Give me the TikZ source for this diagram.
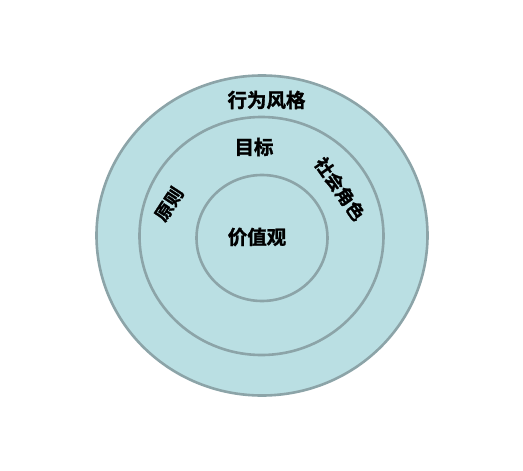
\documentclass[tikz,border=0pt]{standalone}
\usepackage{fontspec}
\newfontfamily\cjk{Noto Sans CJK SC}[BoldFont={* Bold},BoldFeatures={FakeBold=1.5}]
\definecolor{ringfill}{HTML}{BADFE3}
\definecolor{ringline}{HTML}{8CA4A8}
\begin{document}
\begin{tikzpicture}[x=1pt,y=-1pt,
  ring/.style={draw=ringline,line width=2.6pt,fill=ringfill},
  lbl/.style={font=\cjk\bfseries\fontsize{19.5}{19.5}\selectfont,inner sep=0pt},
  arclbl/.style={font=\cjk\bfseries\fontsize{18}{18}\selectfont,inner sep=0pt}]
\useasboundingbox (0,0) rectangle (523,471);
\fill[white] (0,0) rectangle (523,471);
\draw[ring] (262,235.5) ellipse [x radius=165.5,y radius=160];
\draw[ring] (261.5,236) ellipse [x radius=122,y radius=119];
\draw[ring] (262,238) ellipse [x radius=65.5,y radius=63];
\node[lbl] (a) at (266.5,100) {行为风格};
\node[lbl] (b) at (254,147) {目标};
\node[lbl] (c) at (257,237) {价值观};
\node[arclbl,rotate=57] (d) at (169,204) {原则};
\node[arclbl,rotate=-55] (e) at (340,189) {社会角色};
\end{tikzpicture}
\end{document}
